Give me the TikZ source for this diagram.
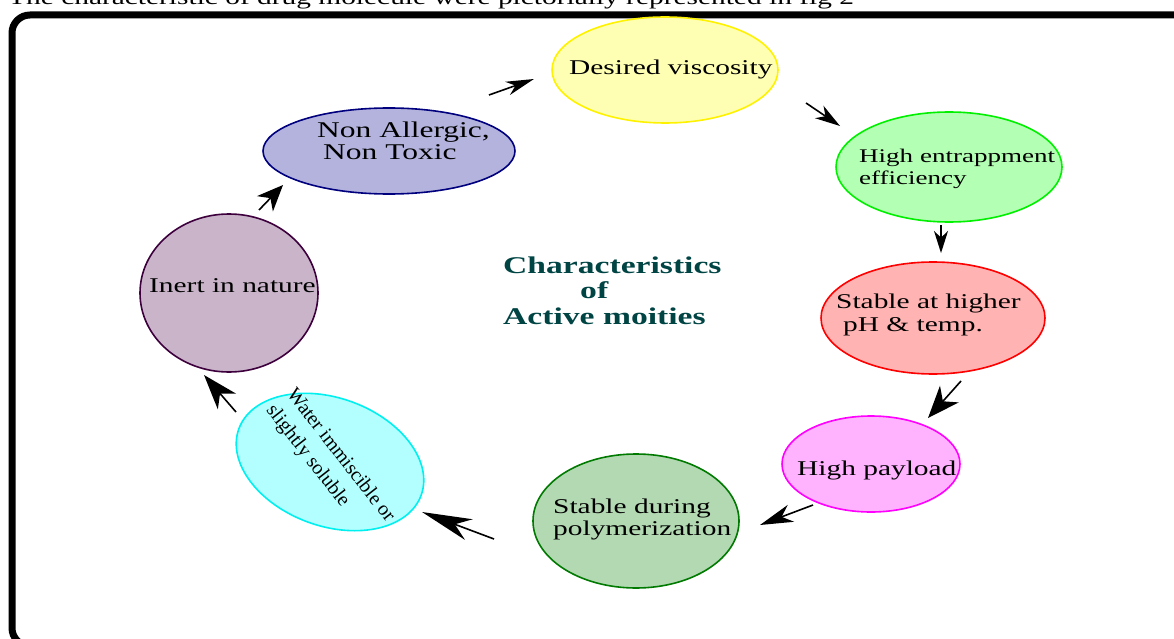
\documentclass[tikz,border=0pt]{standalone}
\usepackage{fontspec}
\setmainfont{Liberation Serif}[FakeStretch=1.4]
\newfontfamily\plainserif{Liberation Serif}
\usetikzlibrary{shapes.geometric,arrows.meta}

\definecolor{viscfill}{HTML}{FFFFB3}
\definecolor{viscline}{HTML}{FFF200}
\definecolor{entrfill}{HTML}{B3FFB3}
\definecolor{entrline}{HTML}{00F000}
\definecolor{phfill}{HTML}{FFB3B3}
\definecolor{phline}{HTML}{FF0000}
\definecolor{payfill}{HTML}{FFB3FF}
\definecolor{payline}{HTML}{FF00FF}
\definecolor{polyfill}{HTML}{B3D9B3}
\definecolor{polyline}{HTML}{007A00}
\definecolor{waterfill}{HTML}{B3FFFF}
\definecolor{waterline}{HTML}{00F0F0}
\definecolor{inertfill}{HTML}{C9B4CA}
\definecolor{inertline}{HTML}{3D003D}
\definecolor{allerfill}{HTML}{B3B3DD}
\definecolor{allerline}{HTML}{00007F}
\definecolor{titlecol}{HTML}{004444}

\begin{document}
\begin{tikzpicture}[x=1pt,y=1pt,
  bubble/.style={ellipse, line width=1.6pt, inner sep=0pt},
  lbl/.style={anchor=base west, inner sep=0pt, font=\fontsize{21}{23}\selectfont},
  small/.style={anchor=base west, inner sep=0pt, font=\fontsize{19.3}{21}\selectfont},
  big/.style={anchor=base west, inner sep=0pt, font=\fontsize{22.5}{24}\selectfont},
  heading/.style={anchor=base west, inner sep=0pt, text=titlecol,
    font=\fontsize{24}{26}\selectfont\bfseries},
  flow/.style 2 args={line width=1.6pt,
    -{Stealth[length=#1pt, width=#2pt, inset=#1pt*0.3]}},
]
\useasboundingbox (0,0) rectangle (1174,-639);

% caption line above the frame
\node[lbl] (caption) at (8,-5)
  {The characteristic of drug molecule were pictorially represented in fig 2};

% heavy frame
\draw[line width=7pt, rounded corners=18pt] (12,-15) rectangle (1205,-646);

% the eight characteristics
\node[bubble, fill=viscfill, draw=viscline, minimum width=226, minimum height=106]
  (visc) at (665,-70) {};
\node[bubble, fill=entrfill, draw=entrline, minimum width=226, minimum height=110]
  (entr) at (949,-167) {};
\node[bubble, fill=phfill, draw=phline, minimum width=224, minimum height=112]
  (ph) at (933,-318) {};
\node[bubble, fill=payfill, draw=payline, minimum width=178, minimum height=96]
  (pay) at (871,-464) {};
\node[bubble, fill=polyfill, draw=polyline, minimum width=206, minimum height=134]
  (poly) at (636,-521) {};
\node[bubble, fill=waterfill, draw=waterline, minimum width=194, minimum height=128,
  rotate=-20] (water) at (330,-462) {};
\node[bubble, fill=inertfill, draw=inertline, minimum width=178, minimum height=158]
  (inert) at (229,-293) {};
\node[bubble, fill=allerfill, draw=allerline, minimum width=252, minimum height=86]
  (aller) at (389,-151) {};

% labels
\node[lbl] (visc-t) at (569,-75) {Desired viscosity};
\node[small] (entr-t1) at (859,-163) {High entrappment};
\node[small] (entr-t2) at (859,-184) {efficiency};
\node[lbl] (ph-t1) at (836,-308) {Stable at higher};
\node[lbl] (ph-t2) at (843,-331) {pH \& temp.};
\node[lbl] (pay-t) at (797,-475) {High payload};
\node[lbl] (poly-t1) at (553,-513) {Stable during};
\node[lbl] (poly-t2) at (553,-535) {polymerization};
\node[lbl] (inert-t) at (149,-292) {Inert in nature};
\node[big] (aller-t1) at (317,-138) {Non Allergic,};
\node[big] (aller-t2) at (323,-160) {Non Toxic};
\node[inner sep=0pt, rotate=-52, align=left,
  font=\plainserif\fontsize{20}{26}\selectfont] (water-t) at (330,-464)
  {Water immiscible or\\slightly soluble};

% centre heading
\node[heading] (head1) at (503,-273) {Characteristics};
\node[heading] (head2) at (580,-298) {of};
\node[heading] (head3) at (503,-324) {Active moities};

% arrow end points
\coordinate (a1s) at (489,-95);  \coordinate (a1e) at (534,-79);
\coordinate (a2s) at (806,-103); \coordinate (a2e) at (840,-126);
\coordinate (a3s) at (941,-225); \coordinate (a3e) at (941,-253);
\coordinate (a4s) at (961,-381); \coordinate (a4e) at (928,-418);
\coordinate (a5s) at (813,-505); \coordinate (a5e) at (760,-525);
\coordinate (a6s) at (494,-539); \coordinate (a6e) at (422,-512);
\coordinate (a7s) at (236,-412); \coordinate (a7e) at (204,-375);
\coordinate (a8s) at (259,-210); \coordinate (a8e) at (283,-185);

\draw[flow={28}{14}] (a1s) -- (a1e);
\draw[flow={25}{15}] (a2s) -- (a2e);
\draw[flow={22}{14}] (a3s) -- (a3e);
\draw[flow={32}{25}] (a4s) -- (a4e);
\draw[flow={33}{18}] (a5s) -- (a5e);
\draw[flow={50}{22}] (a6s) -- (a6e);
\draw[flow={35}{24}] (a7s) -- (a7e);
\draw[flow={26}{22}] (a8s) -- (a8e);
\end{tikzpicture}
\end{document}
